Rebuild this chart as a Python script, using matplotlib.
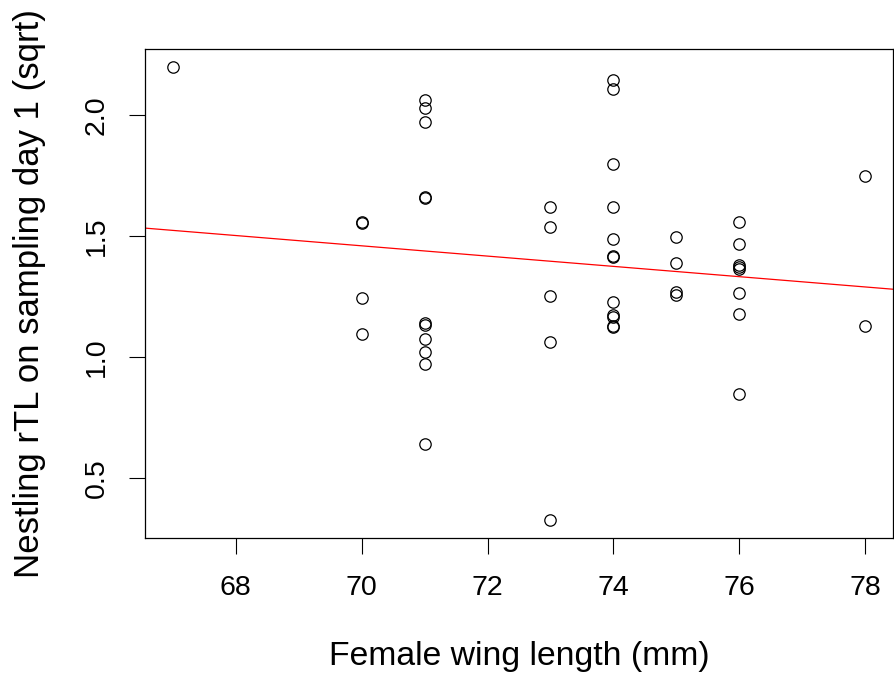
import matplotlib
matplotlib.use("Agg")
import matplotlib.pyplot as plt
import numpy as np

plt.rcParams['font.family'] = ['Liberation Sans', 'DejaVu Sans']

# Data
groups = {
    67: [2.200],
    70: [1.560, 1.555, 1.242, 1.093],
    71: [2.065, 2.031, 1.973, 1.662, 1.657, 1.141, 1.133, 1.076, 1.021, 0.970, 0.638],
    73: [1.620, 1.539, 1.252, 1.062, 0.325],
    74: [2.148, 2.110, 1.800, 1.620, 1.488, 1.418, 1.412, 1.228, 1.172, 1.165, 1.128, 1.122],
    75: [1.495, 1.390, 1.270, 1.255],
    76: [1.560, 1.468, 1.382, 1.373, 1.365, 1.266, 1.178, 0.846],
    78: [1.749, 1.129],
}
wing_length = [k for k, vals in groups.items() for _ in vals]
rtl_sqrt = [v for vals in groups.values() for v in vals]

fit_intercept = 2.951
fit_slope = -0.0213

x_ticks = [68, 70, 72, 74, 76, 78]
y_ticks = [0.5, 1.0, 1.5, 2.0]
x_label = "Female wing length (mm)"
y_label = "Nestling rTL on sampling day 1 (sqrt)"

W, H = 894, 678
fig = plt.figure(figsize=(W / 100, H / 100), dpi=100)
ax = fig.add_axes([145 / W, 1 - 538 / H, (893 - 145) / W, (538 - 49) / H])

ax.plot(wing_length, rtl_sqrt, linestyle='none', marker='o', markersize=8.2,
        markerfacecolor='none', markeredgecolor='black', markeredgewidth=0.9)
ax.margins(0.04)
xmin, xmax = ax.get_xlim()
ymin, ymax = ax.get_ylim()
xs = np.array([xmin, xmax])
ax.plot(xs, fit_intercept + fit_slope * xs, color='red', linewidth=0.9)
ax.set_xlim(xmin, xmax)
ax.set_ylim(ymin, ymax)

ax.set_xticks(x_ticks)
ax.set_xticklabels([str(t) for t in x_ticks])
ax.set_yticks(y_ticks)
ax.set_yticklabels([f"{t:.1f}" for t in y_ticks], rotation=90, va='center')

ax.tick_params(axis='both', direction='out', length=11.5, width=0.8,
               labelsize=20.5, color='black', labelcolor='black')
ax.tick_params(axis='x', pad=15)
ax.tick_params(axis='y', pad=14)

for s in ax.spines.values():
    s.set_linewidth(0.9)
    s.set_color('black')

ax.set_xlabel(x_label, fontsize=24.3, va='baseline')
ax.xaxis.set_label_coords(0.5, (538 - 665) / (538 - 49))
ax.set_ylabel(y_label, fontsize=25.0, va='center')
ax.yaxis.set_label_coords((30 - 145) / (893 - 145), 0.5)

fig.savefig("out.png", dpi=100, facecolor='white')
